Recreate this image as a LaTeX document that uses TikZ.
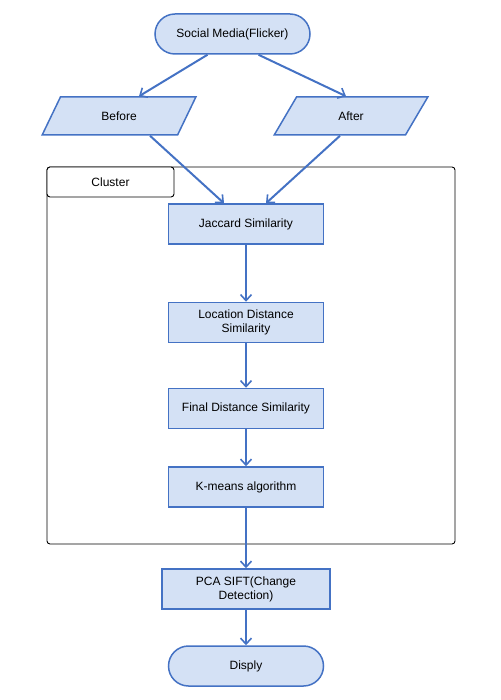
\documentclass[tikz,border=0pt]{standalone}
\usepackage{fontspec}
\setmainfont{Liberation Sans}
\usetikzlibrary{shapes.geometric,arrows.meta}
\definecolor{boxfill}{RGB}{212,225,245}
\definecolor{boxline}{RGB}{68,114,196}

\begin{document}
\begin{tikzpicture}[x=1pt, y=-1pt, font=\fontsize{12}{14}\selectfont]
	\tikzset{>={Straight Barb[length=6pt,width=11pt,line width=1.6pt]}}
	\tikzset{
	    flow/.style={->, draw=boxline, line width=2pt},
	    process/.style={draw=boxline, fill=boxfill, line width=1.5pt, minimum width=155pt, minimum height=40pt, align=center, inner sep=2pt},
	    terminal/.style={process, rounded corners=20pt},
	    data/.style={trapezium, trapezium left angle=67, trapezium right angle=113, trapezium stretches=true, draw=boxline, fill=boxfill, line width=1.5pt, minimum width=154pt, minimum height=38pt}
	}
	\useasboundingbox (0,0) rectangle (500,700);

	% cluster frame
	\node[draw, line width=0.9pt, rounded corners=3pt, minimum width=408pt, minimum height=377pt] (clusterbox) at (251,355.5) {};
	\node[draw, line width=0.9pt, fill=white, rounded corners=3pt, minimum width=127pt, minimum height=30pt] (cluster) at (110.5,182) {Cluster};

	\node[terminal] (social) at (232.5,34) {Social Media(Flicker)};
	\node[data] (before) at (119,116) {Before};
	\node[data] (after) at (351,116) {After};
	\node[process] (jaccard) at (246,224) {Jaccard Similarity};
	\node[process] (location) at (246,322.5) {Location Distance\\Similarity};
	\node[process] (final) at (246,408.5) {Final Distance Similarity};
	\node[process] (kmeans) at (246,487) {K-means algorithm};
	\node[process, minimum width=168pt] (pca) at (246,589) {PCA SIFT(Change\\Detection)};
	\node[terminal] (disply) at (246,666) {Disply};

	\draw[flow] ([xshift=-25pt]social.south) -- ([xshift=20pt]before.north);
	\draw[flow] ([xshift=26pt]social.south) -- ([xshift=-5pt]after.north);
	\draw[flow] ([xshift=31pt]before.south) -- ([xshift=-22pt]jaccard.north);
	\draw[flow] ([xshift=-11pt]after.south) -- ([xshift=20pt]jaccard.north);
	\foreach \a/\b in {jaccard/location, location/final, final/kmeans, kmeans/pca, pca/disply} {
	    \draw[flow] (\a) -- (\b);
	    }
\end{tikzpicture}
\end{document}
